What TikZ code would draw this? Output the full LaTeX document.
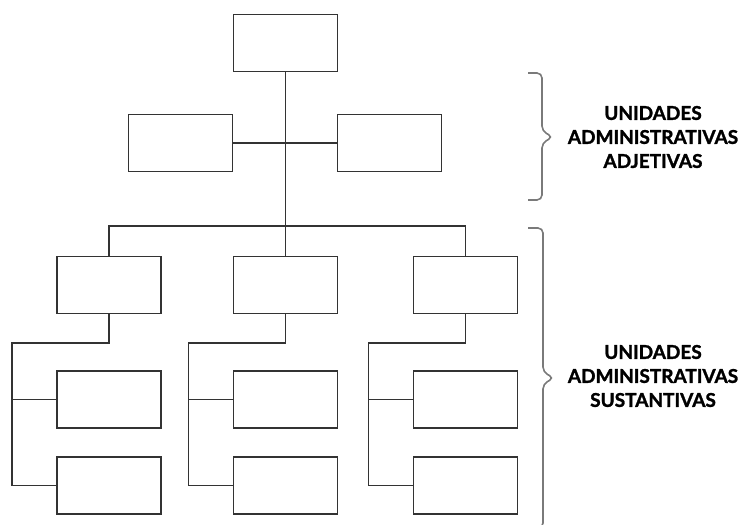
\documentclass[tikz,border=0pt]{standalone}
\usepackage{fontspec}
\usepackage{tikz}
\usetikzlibrary{positioning,calc}
\newfontfamily\rotfont{Lato}[BoldFeatures={FakeBold=1.5}]

\definecolor{linea}{HTML}{333333}
\definecolor{llavegris}{HTML}{7A7A7A}

\begin{document}
\begin{tikzpicture}[x=1pt,y=-1pt,
    caja/.style={draw=linea, line width=1.4pt, minimum width=104pt, minimum height=57pt, inner sep=0pt},
    conector/.style={draw=linea, line width=1.4pt},
    llave/.style={draw=llavegris, line width=1.6pt, rounded corners=5pt},
    rotulo/.style={align=center, font=\rotfont\bfseries\fontsize{19}{24}\selectfont}]
    \useasboundingbox (0,0) rectangle (740,525);

    % titular y unidades adjetivas
    \node[caja] (titular) at (285.5,43) {};
    \node[caja] (adjI) at (180.5,143) {};
    \node[caja] (adjD) at (389.5,143) {};

    % unidades sustantivas
    \node[caja] (sus1) at (109,285) {};
    \node[caja] (sus2) at (285.5,285) {};
    \node[caja] (sus3) at (465.5,285) {};

    \coordinate (busI) at (109,226);
    \coordinate (busD) at (465.5,226);

    \draw[conector] (titular.south) -- (sus2.north);
    \draw[conector] (adjI.east) -- (adjD.west);
    \draw[conector] (sus1.north) -- (busI) -- (busD) -- (sus3.north);

    % subunidades de cada columna
    \foreach \c/\x in {1/109, 2/285.5, 3/465.5} {
        \node[caja] (sus\c a) at (\x,399.5) {};
        \node[caja] (sus\c b) at (\x,485.5) {};
        \coordinate (codo\c) at (\x,343);
        \coordinate (tronco\c) at (\x-97,343);
        \draw[conector] (sus\c.south) -- (codo\c) -- (tronco\c) -- (tronco\c |- sus\c b.west) -- (sus\c b.west);
        \draw[conector] (tronco\c |- sus\c a.west) -- (sus\c a.west);
    }

    % llaves
    \draw[llave] (528,73) -- (542,73) -- (542,131) -- (553,137) -- (542,143) -- (542,200) -- (528,200);
    \draw[llave] (528,228) -- (543,228) -- (543,372) -- (554,378) -- (543,384) -- (543,528) -- (528,528);

    \node[rotulo] (adjetivas) at (653,137) {UNIDADES\\ADMINISTRATIVAS\\ADJETIVAS};
    \node[rotulo] (sustantivas) at (653,376) {UNIDADES\\ADMINISTRATIVAS\\SUSTANTIVAS};
\end{tikzpicture}
\end{document}
